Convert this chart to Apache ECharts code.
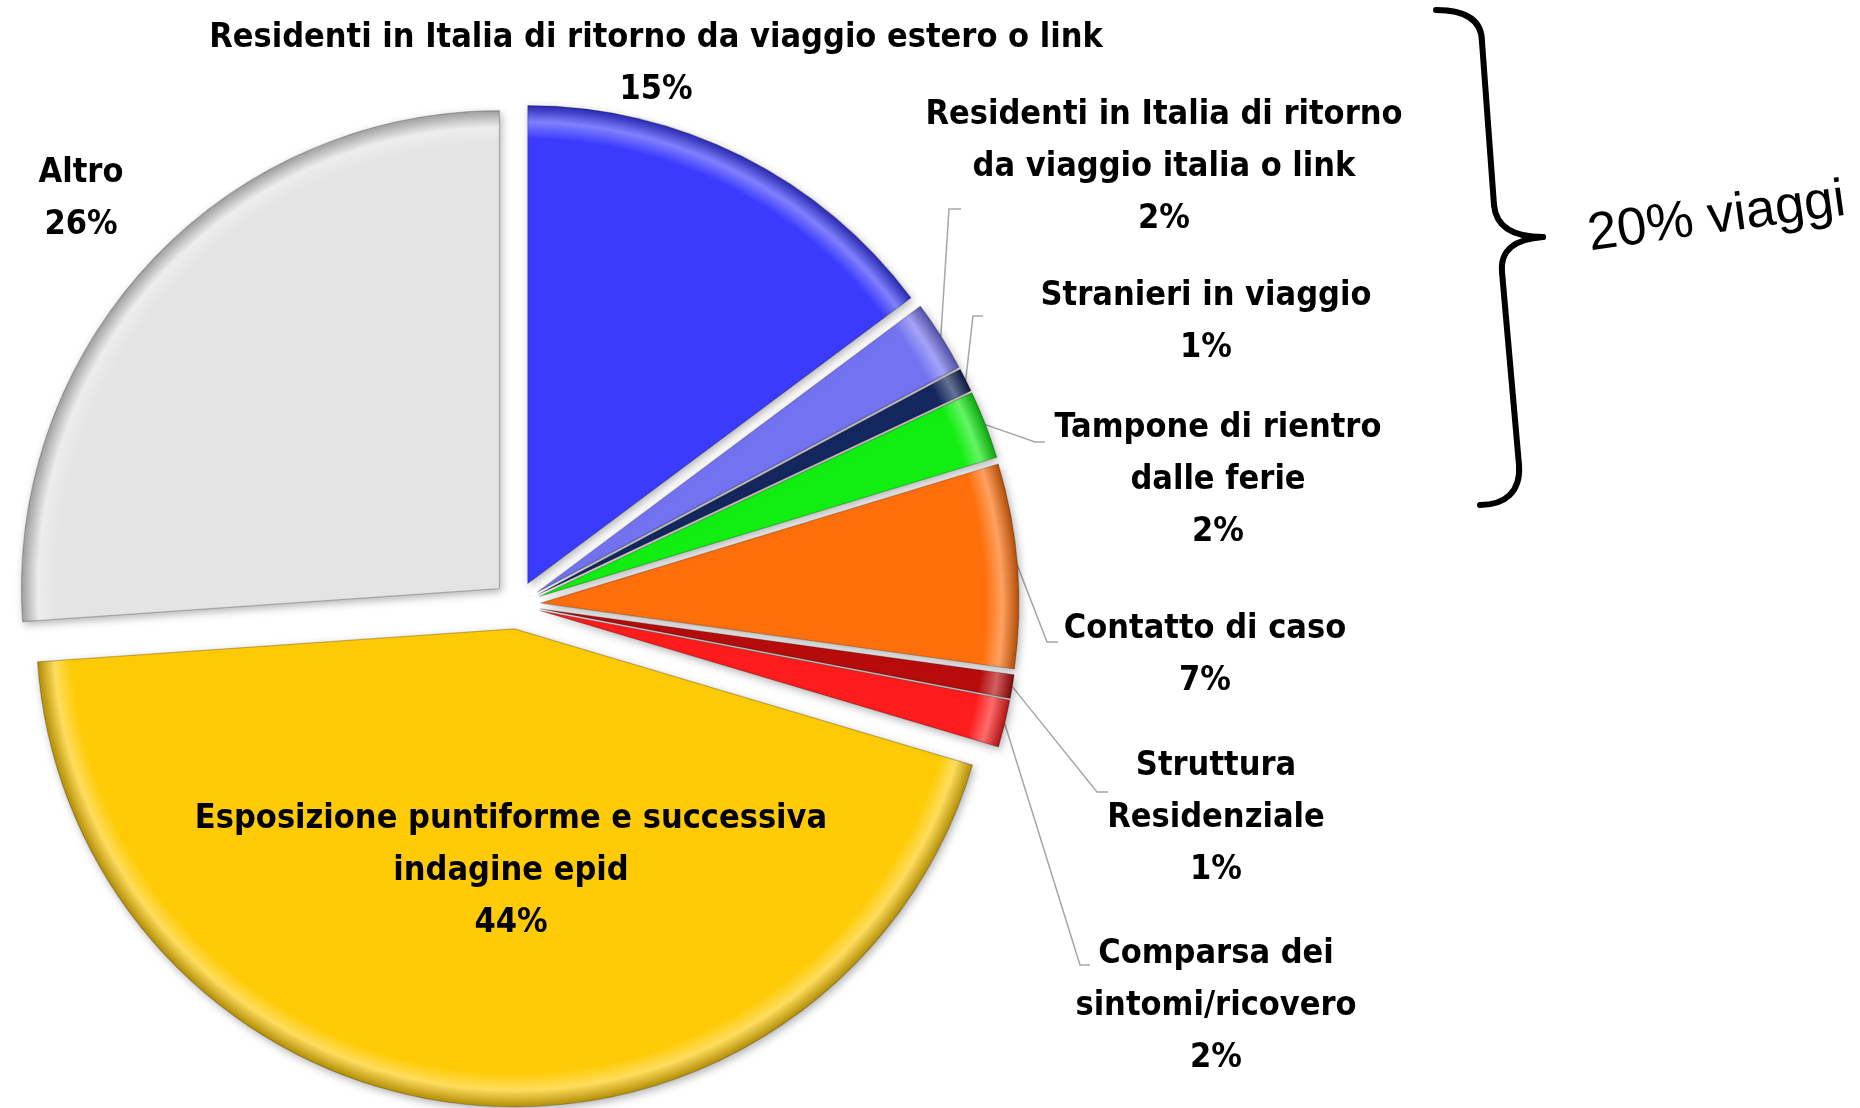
<!DOCTYPE html>
<html>
<head>
<meta charset="utf-8">
<script src="https://cdn.jsdelivr.net/npm/echarts@6/dist/echarts.min.js"></script>
<style>
  html, body { margin: 0; padding: 0; background: #fff; }
  #cake { width: 1860px; height: 1108px; }
</style>
</head>
<body>
<div id="cake"></div>
<script>
// categorie e valori (percentuali)
var categories = [
  'Residenti in Italia di ritorno da viaggio estero o link',
  'Residenti in Italia di ritorno\nda viaggio italia o link',
  'Stranieri in viaggio',
  'Tampone di rientro\ndalle ferie',
  'Contatto di caso',
  'Struttura\nResidenziale',
  'Comparsa dei\nsintomi/ricovero',
  'Esposizione puntiforme e successiva\nindagine epid',
  'Altro'
];
var values = [14.8, 2.4, 0.8, 2.3, 6.9, 0.8, 1.6, 44.3, 26.1];
var colors = ['#3b3bff', '#7373f2', '#14275e', '#12ee12', '#ff6f0c', '#b80c0c', '#ff1c1c', '#ffcb07', '#e4e4e4'];

// posizione delle etichette (centro del blocco di testo)
var labelPos = [[656, 64], [1164, 167], [1206, 322], [1218, 480], [1205, 655], [1216, 818], [1216, 1006], [511, 871], [81, 199]];
// gomito e fine delle linee guida (null = nessuna linea)
var lineBends = [null, [[949, 209], [961, 209]], [[973, 316], [983, 316]], [[1035, 442], [1045, 442]],
  [[1047, 642], [1058, 642]], [[1097, 792], [1108, 792]], [[1080, 965], [1090, 965]], null, null];

var CENTER = [517, 605];
var R = 478;
var OFFSET = 24;
var FONT = "'Liberation Sans Narrow', 'DejaVu Sans Condensed', 'Open Sans', sans-serif";

// mescola un colore esadecimale con bianco (t>0) o nero (t<0)
function mix(hex, t) {
  var n = parseInt(hex.slice(1), 16);
  var c = [(n >> 16) & 255, (n >> 8) & 255, n & 255].map(function (v) {
    return Math.round(t > 0 ? v + (255 - v) * t : v * (1 + t));
  });
  return 'rgb(' + c.join(',') + ')';
}

// effetto smussato sul bordo esterno
function bevel(col) {
  return new echarts.graphic.RadialGradient(CENTER[0], CENTER[1], R, [
    { offset: 0, color: col },
    { offset: 0.93, color: col },
    { offset: 0.965, color: mix(col, 0.35) },
    { offset: 1, color: mix(col, -0.3) }
  ], true);
}

var myChart = echarts.init(document.getElementById('cake'));

var braceStyle = { stroke: '#000', lineWidth: 6, fill: null, lineCap: 'round' };
function curve(x1, y1, cx1, cy1, cx2, cy2, x2, y2) {
  return { type: 'bezierCurve', shape: { x1: x1, y1: y1, cpx1: cx1, cpy1: cy1, cpx2: cx2, cpy2: cy2, x2: x2, y2: y2 }, style: braceStyle };
}
function seg(x1, y1, x2, y2) {
  return { type: 'line', shape: { x1: x1, y1: y1, x2: x2, y2: y2 }, style: braceStyle };
}

var option = {
  animation: false,
  series: [
    {
      // torta esplosa
      name: 'Motivo',
      type: 'pie',
      center: CENTER,
      radius: R,
      startAngle: 90,
      clockwise: true,
      selectedMode: 'multiple',
      selectedOffset: OFFSET,
      emphasis: { disabled: true },
      label: { show: false },
      labelLine: { show: false },
      itemStyle: {
        borderColor: 'rgba(0,0,0,0.22)',
        borderWidth: 1.2,
        shadowBlur: 9,
        shadowOffsetX: 2,
        shadowOffsetY: 3,
        shadowColor: 'rgba(0,0,0,0.3)'
      },
      data: categories.map(function (name, i) {
        return {
          name: name,
          value: values[i],
          selected: true,
          itemStyle: { color: bevel(colors[i]) }
        };
      })
    },
    {
      // solo etichette e linee guida
      name: 'Etichette',
      type: 'pie',
      center: CENTER,
      radius: R + OFFSET,
      startAngle: 90,
      clockwise: true,
      silent: true,
      selectedMode: false,
      avoidLabelOverlap: false,
      emphasis: { disabled: true },
      itemStyle: { color: 'rgba(0,0,0,0)', borderWidth: 0 },
      label: {
        show: true,
        color: '#000',
        fontFamily: FONT,
        fontWeight: 'bold',
        fontSize: 34,
        lineHeight: 52,
        align: 'center',
        formatter: function (p) {
          return p.name + '\n' + Math.round(p.value) + '%';
        }
      },
      labelLine: {
        show: true,
        length: 20,
        length2: 15,
        lineStyle: { color: '#a6a6a6', width: 1.5 }
      },
      labelLayout: function (params) {
        var i = params.dataIndex;
        var p = labelPos[i];
        var out = { x: p[0], y: p[1], align: 'center', verticalAlign: 'middle' };
        if (lineBends[i] && params.labelLinePoints) {
          out.labelLinePoints = [params.labelLinePoints[0], lineBends[i][0], lineBends[i][1]];
        }
        return out;
      },
      data: categories.map(function (name, i) {
        var item = { name: name, value: values[i] };
        if (!lineBends[i]) {
          item.labelLine = { show: false };
        }
        return item;
      })
    }
  ],
  graphic: [
    curve(1436, 10, 1466, 10, 1482, 20, 1482, 42),
    seg(1482, 42, 1494, 205),
    curve(1494, 205, 1496, 228, 1515, 237, 1543, 237),
    curve(1543, 237, 1515, 239, 1500, 250, 1502, 272),
    seg(1502, 272, 1519, 465),
    curve(1519, 465, 1521, 492, 1505, 505, 1480, 505),
    {
      type: 'text',
      x: 1592,
      y: 262,
      rotation: 0.138,
      style: {
        text: '20% viaggi',
        font: "53px 'Liberation Sans', Arial, sans-serif",
        fill: '#000',
        textAlign: 'left',
        textVerticalAlign: 'bottom'
      }
    }
  ]
};

myChart.setOption(option);
</script>
</body>
</html>
